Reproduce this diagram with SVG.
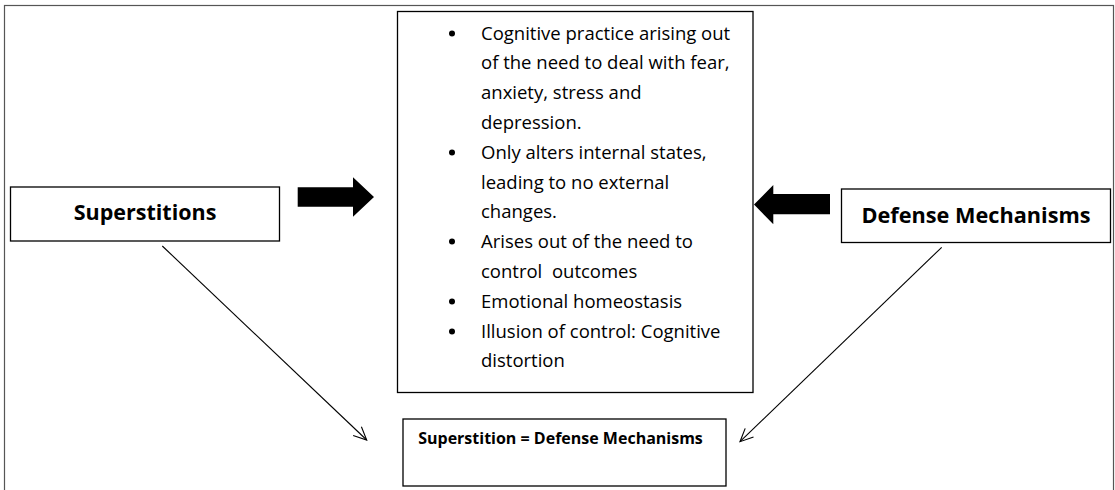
<svg xmlns="http://www.w3.org/2000/svg" width="1115" height="490" viewBox="0 0 1115 490">
  <style>
    .box { fill: #ffffff; stroke: #000000; stroke-width: 1.3; }
    .frame { fill: none; stroke: #555555; stroke-width: 1.2; }
    .title { font-family: "Open Sans", "Liberation Sans", sans-serif; font-weight: bold; fill: #000000; text-anchor: middle; }
    .body { font-family: "Open Sans", "Liberation Sans", sans-serif; font-size: 18.5px; fill: #000000; }
    .conn { fill: none; stroke: #000000; stroke-width: 1.1; }
    .block { fill: #000000; stroke: none; }
  </style>
  <defs>
    <marker id="open" viewBox="0 0 16 16" refX="14" refY="8" markerWidth="16" markerHeight="16" markerUnits="userSpaceOnUse" orient="auto">
      <path d="M1,2 L14,8 L1,14" fill="none" stroke="#000000" stroke-width="1.1"/>
    </marker>
  </defs>
  <rect width="1115" height="490" fill="#ffffff"/>
  <rect class="frame" x="4.5" y="5.5" width="1109" height="500"/>

  <g id="center-box">
    <rect class="box" x="397.5" y="11.5" width="355.5" height="381"/>
    <g fill="#000000">
      <circle cx="452" cy="33.5" r="3"/>
      <circle cx="452" cy="152.5" r="3"/>
      <circle cx="452" cy="241.5" r="3"/>
      <circle cx="452" cy="301.5" r="3"/>
      <circle cx="452" cy="331.5" r="3"/>
    </g>
    <text class="body" x="481" y="39.5">Cognitive practice arising out</text>
    <text class="body" x="481" y="69.3">of the need to deal with fear,</text>
    <text class="body" x="481" y="99.1">anxiety, stress and</text>
    <text class="body" x="481" y="128.9">depression.</text>
    <text class="body" x="481" y="158.7">Only alters internal states,</text>
    <text class="body" x="481" y="188.5">leading to no external</text>
    <text class="body" x="481" y="218.3">changes.</text>
    <text class="body" x="481" y="248.1">Arises out of the need to</text>
    <text class="body" x="481" y="277.9" xml:space="preserve">control  outcomes</text>
    <text class="body" x="481" y="307.7">Emotional homeostasis</text>
    <text class="body" x="481" y="337.5">Illusion of control: Cognitive</text>
    <text class="body" x="481" y="367.3">distortion</text>
  </g>

  <g id="superstitions">
    <rect class="box" x="10.5" y="187" width="269" height="54"/>
    <text class="title" x="145" y="220" font-size="21.5">Superstitions</text>
  </g>

  <g id="defense-mechanisms">
    <rect class="box" x="841.5" y="189" width="269" height="53.5"/>
    <text class="title" x="976" y="223.3" font-size="21.7">Defense Mechanisms</text>
  </g>

  <g id="result">
    <rect class="box" x="403" y="419" width="323" height="67"/>
    <text class="title" x="560.5" y="443.5" font-size="16">Superstition = Defense Mechanisms</text>
  </g>

  <g id="connectors">
    <polygon class="block" points="297.7,187.3 353,187.3 353,177.3 374,197 353,216.7 353,206.7 297.7,206.7"/>
    <polygon class="block" points="830,194 773.3,194 773.3,185 754,204.6 773.3,224.3 773.3,214.3 830,214.3"/>
    <line class="conn" x1="162.3" y1="246" x2="366.7" y2="440" marker-end="url(#open)"/>
    <line class="conn" x1="941.7" y1="247.3" x2="740" y2="441.7" marker-end="url(#open)"/>
  </g>
</svg>
